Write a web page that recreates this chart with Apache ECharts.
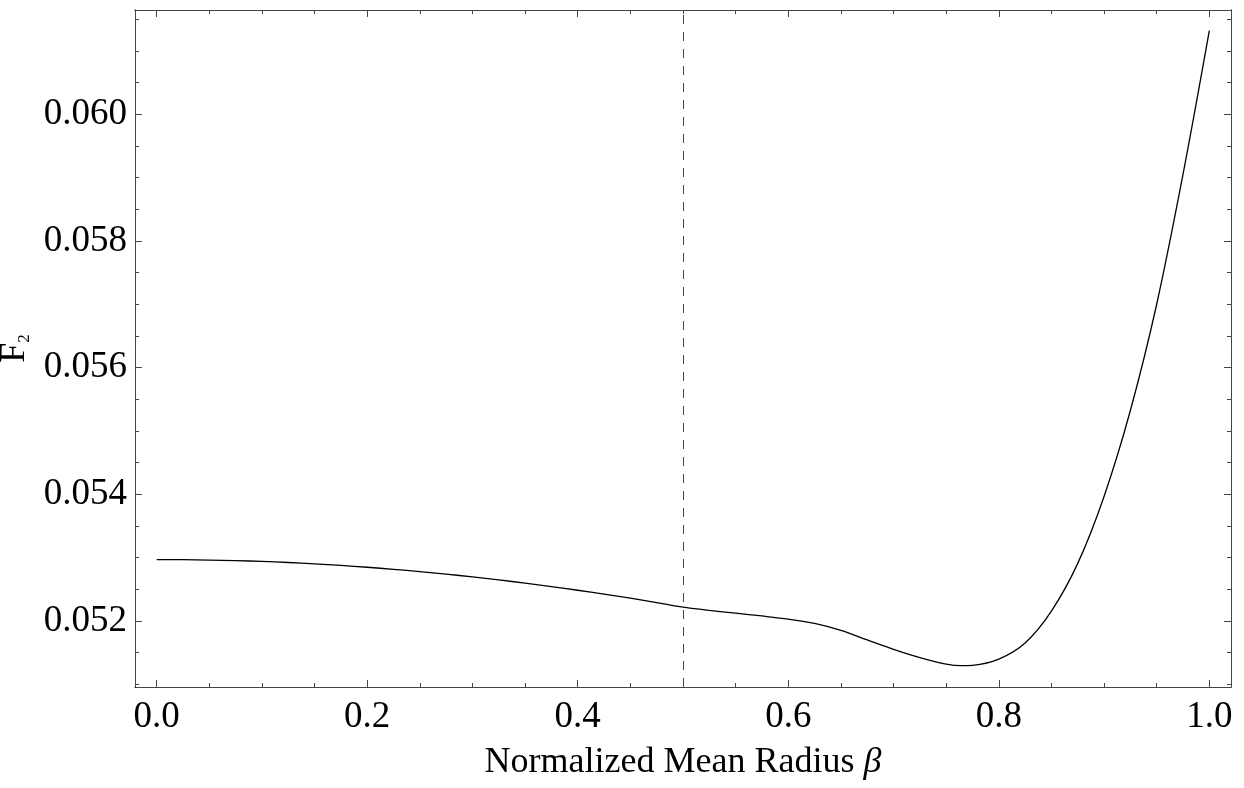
<!DOCTYPE html>
<html>
<head>
<meta charset="utf-8">
<script src="https://cdn.jsdelivr.net/npm/echarts@6/dist/echarts.min.js"></script>
<style>html,body{margin:0;padding:0;background:#fff;}#c{width:1244px;height:788px;}</style>
</head>
<body>
<div id="c"></div>
<script>
// ---- data ----
const betaValues = [0.000,0.025,0.050,0.075,0.100,0.125,0.150,0.175,0.200,0.225,0.250,0.275,0.300,0.325,0.350,0.375,0.400,0.425,0.450,0.475,0.500,0.525,0.550,0.575,0.600,0.625,0.650,0.675,0.700,0.725,0.750,0.765,0.775,0.800,0.825,0.850,0.875,0.900,0.925,0.950,0.975,1.000];
const f2Values = [0.052970,0.052968,0.052963,0.052954,0.052941,0.052924,0.052903,0.052878,0.052849,0.052816,0.052780,0.052740,0.052696,0.052649,0.052598,0.052544,0.052486,0.052425,0.052360,0.052291,0.052218,0.052168,0.052124,0.052080,0.052030,0.051962,0.051852,0.051702,0.051552,0.051422,0.051319,0.051295,0.051301,0.051400,0.051655,0.052158,0.052910,0.053967,0.055323,0.057000,0.059050,0.061317];
const xMajorTicks = [0.0,0.2,0.4,0.6,0.8,1.0];
const xMinorTicks = [0.05,0.10,0.15,0.25,0.30,0.35,0.45,0.50,0.55,0.65,0.70,0.75,0.85,0.90,0.95];
const yMajorTicks = [0.052,0.054,0.056,0.058,0.060];
const yMinorTicks = [0.0510,0.0515,0.0525,0.0530,0.0535,0.0545,0.0550,0.0555,0.0565,0.0570,0.0575,0.0585,0.0590,0.0595,0.0605,0.0610,0.0615];
const dashedAt = 0.5;
const xRange = [-0.0206, 1.0206];
const yRange = [0.050959, 0.061644];

const frameColor = '#444';
const font = 'Liberation Serif, Times New Roman, serif';

function xAx(pos, ticks, len, labels, name) {
  return {
    type: 'value', position: pos, min: xRange[0], max: xRange[1],
    axisLine: { show: true, onZero: false, lineStyle: { color: frameColor, width: 1 } },
    axisTick: { show: true, inside: true, length: len, customValues: ticks, lineStyle: { color: frameColor, width: 1 } },
    axisLabel: labels ? { show: true, customValues: xMajorTicks, margin: 12, color: '#000', fontSize: 37, fontFamily: font,
      formatter: v => v.toFixed(1) } : { show: false },
    splitLine: { show: false },
    name: name || '', nameLocation: 'middle', nameGap: 58,
    nameTextStyle: { color: '#000', fontSize: 36, fontFamily: font,
      rich: { i: { fontSize: 36, fontStyle: 'italic', fontFamily: font, color: '#000' } } }
  };
}
function yAx(pos, ticks, len, labels, name) {
  return {
    type: 'value', position: pos, min: yRange[0], max: yRange[1],
    axisLine: { show: true, onZero: false, lineStyle: { color: frameColor, width: 1 } },
    axisTick: { show: true, inside: true, length: len, customValues: ticks, lineStyle: { color: frameColor, width: 1 } },
    axisLabel: labels ? { show: true, customValues: yMajorTicks, margin: 8, color: '#000', fontSize: 37, fontFamily: font,
      formatter: v => v.toFixed(3) } : { show: false },
    splitLine: { show: false },
    name: name || '', nameLocation: 'middle', nameGap: 91,
    nameTextStyle: { color: '#000', fontFamily: font,
      rich: { a: { fontSize: 36, lineHeight: 36, fontFamily: font, color: '#000' },
              s: { fontSize: 17, lineHeight: 10, verticalAlign: 'bottom', fontFamily: font, color: '#000' } } }
  };
}

const chart = echarts.init(document.getElementById('c'), null, { renderer: 'canvas' });
chart.setOption({
  animation: false,
  backgroundColor: '#fff',
  grid: { left: 135, right: 13, top: 10, bottom: 101, containLabel: false, outerBoundsMode: 'none' },
  xAxis: [
    xAx('bottom', xMajorTicks, 7, true, 'Normalized Mean Radius {i|β}'),
    xAx('bottom', xMinorTicks, 4, false),
    xAx('top', xMajorTicks, 7, false),
    xAx('top', xMinorTicks, 4, false)
  ],
  yAxis: [
    yAx('left', yMajorTicks, 7, true, '{a|F}{s|2}'),
    yAx('left', yMinorTicks, 4, false),
    yAx('right', yMajorTicks, 7, false),
    yAx('right', yMinorTicks, 4, false)
  ],
  series: [{
    type: 'line', xAxisIndex: 0, yAxisIndex: 0,
    data: betaValues.map((b, i) => [b, f2Values[i]]),
    smooth: 0.35, showSymbol: false, symbol: 'none',
    lineStyle: { color: '#000', width: 1.3 },
    markLine: {
      silent: true, symbol: 'none', label: { show: false },
      lineStyle: { color: '#444', width: 1, type: [9, 8] },
      data: [{ xAxis: dashedAt }]
    }
  }]
});
</script>
</body>
</html>
